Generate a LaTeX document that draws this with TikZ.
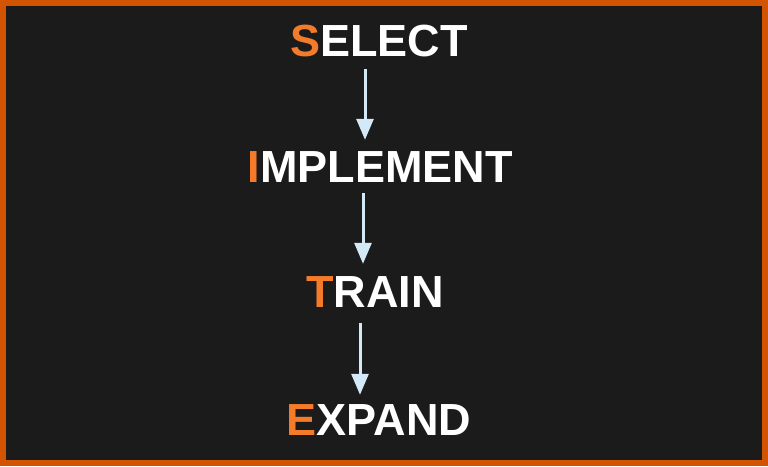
\documentclass[tikz,border=0pt]{standalone}
\usepackage{fontspec}
\setmainfont{Liberation Sans}
\usepackage{tikz}
\usetikzlibrary{arrows.meta}

\definecolor{frameorange}{HTML}{D35400}
\definecolor{boardgray}{HTML}{1B1B1B}
\definecolor{initorange}{HTML}{F47B2A}
\definecolor{arrowblue}{HTML}{D3E9F8}

\tikzset{
	stepword/.style={text=white, font=\bfseries\fontsize{45}{45}\selectfont, inner sep=0pt, text height=32pt, text depth=0pt},
	steparrow/.style={-{Triangle[width=17pt,length=21pt]}, line width=3pt, arrowblue}
}
\newcommand{\initial}[1]{\textcolor{initorange}{#1}}

\begin{document}
\begin{tikzpicture}[x=1pt,y=1pt]
			\fill[frameorange] (0,0) rectangle (768,466);
			\fill[boardgray] (6,6) rectangle (762,460);
			\useasboundingbox (0,0) rectangle (768,466);
			
			\node[stepword] (S) at (379,425) {\initial{S}ELECT};
			\node[stepword] (I) at (380,299) {\initial{I}MPLEMENT};
			\node[stepword] (T) at (375,174) {\initial{T}RAIN};
			\node[stepword] (E) at (379,47) {\initial{E}XPAND};
			
			\draw [steparrow, shorten <=12pt, shorten >=11pt] ([xshift=-14pt]S.south) -- ([xshift=-15pt]I.north);
			\draw [steparrow, shorten <=10pt, shorten >=12pt] ([xshift=-17pt]I.south) -- ([xshift=-12pt]T.north);
			\draw [steparrow, shorten <=15pt, shorten >=8pt] ([xshift=-15pt]T.south) -- ([xshift=-19pt]E.north);
		\end{tikzpicture}
\end{document}
